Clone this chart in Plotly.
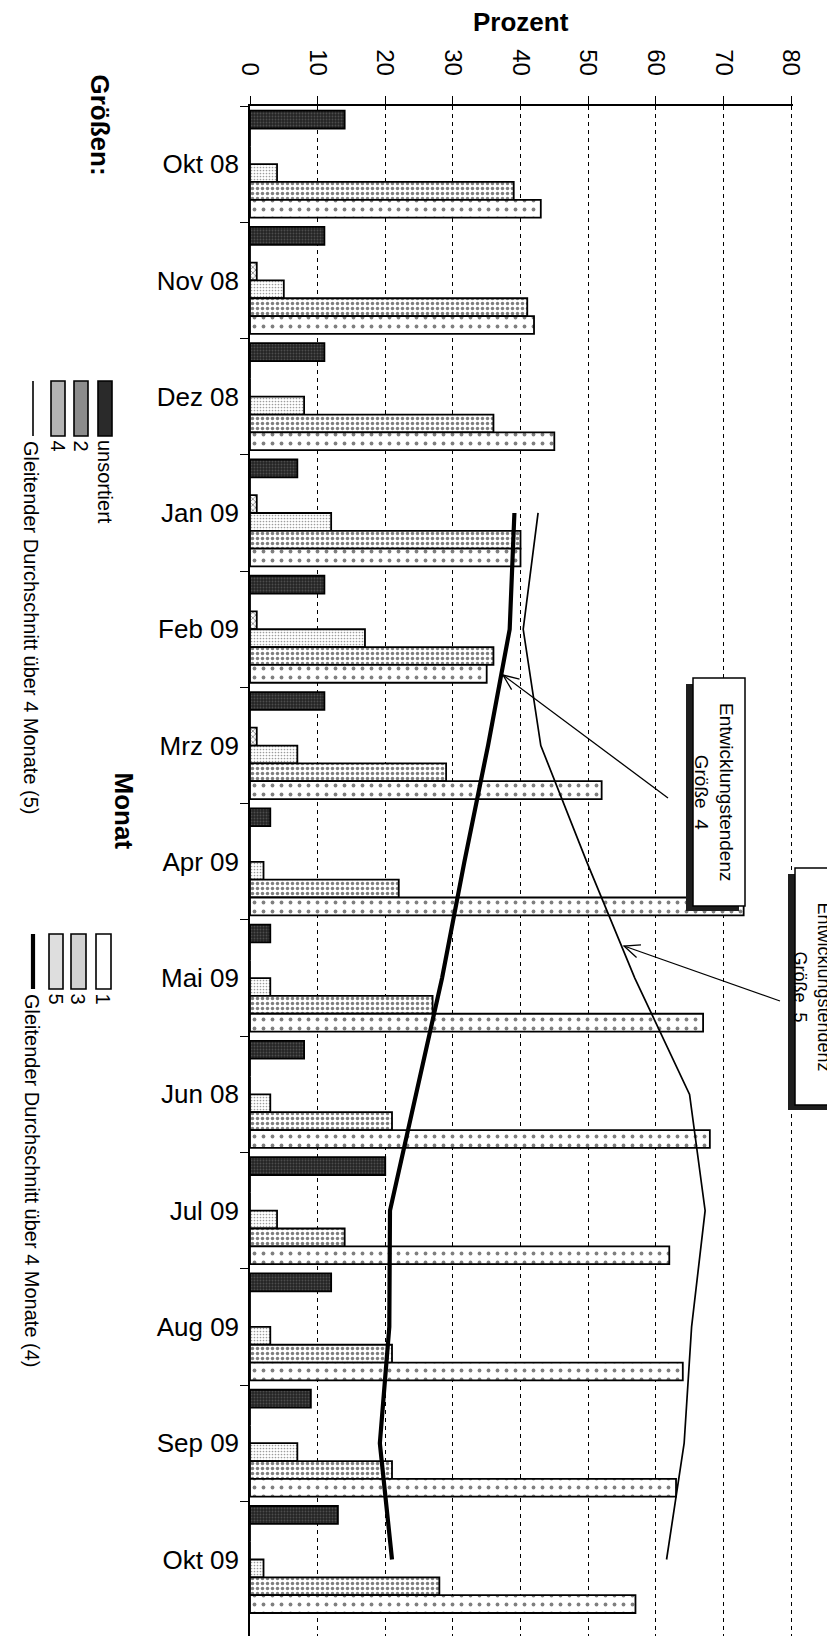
import math
import plotly.graph_objects as go

W, H = 835, 1640
FONT = "Liberation Sans, Arial, sans-serif"

# ---------------- data ----------------
months = ["Okt 08", "Nov 08", "Dez 08", "Jan 09", "Feb 09", "Mrz 09", "Apr 09",
          "Mai 09", "Jun 08", "Jul 09", "Aug 09", "Sep 09", "Okt 09"]
unsortiert = [14, 11, 11, 7, 11, 11, 3, 3, 8, 20, 12, 9, 13]
groesse_1 = [0, 0, 0, 0, 0, 0, 0, 0, 0, 0, 0, 0, 0]
groesse_2 = [0, 1, 0, 1, 1, 1, 0, 0, 0, 0, 0, 0, 0]
groesse_3 = [4, 5, 8, 12, 17, 7, 2, 3, 3, 4, 3, 7, 2]
groesse_4 = [39, 41, 36, 40, 36, 29, 22, 27, 21, 14, 21, 21, 28]
groesse_5 = [43, 42, 45, 40, 35, 52, 73, 67, 68, 62, 64, 63, 57]

ma_months = ["Jan 09", "Feb 09", "Mrz 09", "Apr 09", "Mai 09", "Jun 08",
             "Jul 09", "Aug 09", "Sep 09", "Okt 09"]
ma_groesse_4 = [39.1, 38.4, 35.2, 31.7, 28.4, 24.6, 20.7, 20.6, 19.2, 21.0]
ma_groesse_5 = [42.6, 40.4, 43.0, 49.8, 56.9, 65.0, 67.3, 65.3, 64.2, 61.6]

x_ticks = [0, 10, 20, 30, 40, 50, 60, 70, 80]
x_tick_labels = ["0", "10", "20", "30", "40", "50", "60", "70", "80"]


def px(x):
    return x / W


def py(y):
    return 1 - y / H


# plot area in pixels
PL, PT, PB = 242, 98, 1628
X_MAX = 80.3
PR = PL + X_MAX * (541 / 80)

fig = go.Figure()

bar_styles = [
    ("unsortiert", unsortiert, dict(color="#2a2a2a",
                                    pattern=dict(shape=".", fgcolor="#767676", bgcolor="#242424",
                                                 size=3, solidity=0.3))),
    ("1", groesse_1, dict(color="white")),
    ("2", groesse_2, dict(color="black",
                          pattern=dict(shape="x", fgcolor="black", bgcolor="white",
                                       size=4, solidity=0.35))),
    ("3", groesse_3, dict(color="#444",
                          pattern=dict(shape=".", fgcolor="#3a3a3a", bgcolor="white",
                                       size=3, solidity=0.25))),
    ("4", groesse_4, dict(color="black",
                          pattern=dict(shape=".", fgcolor="black", bgcolor="white",
                                       size=5, solidity=0.38))),
    ("5", groesse_5, dict(color="black",
                          pattern=dict(shape=".", fgcolor="black", bgcolor="white",
                                       size=9, solidity=0.14))),
]

for name, vals, mk in bar_styles:
    mk = dict(mk)
    mk["line"] = dict(color="black", width=1.8)
    fig.add_trace(go.Bar(name=name, y=months, x=vals, orientation="h", marker=mk,
                         showlegend=False))

fig.add_trace(go.Scatter(y=ma_months, x=ma_groesse_5, mode="lines",
                         line=dict(color="black", width=1.7), showlegend=False,
                         name="Gleitender Durchschnitt über 4 Monate (5)"))
fig.add_trace(go.Scatter(y=ma_months, x=ma_groesse_4, mode="lines",
                         line=dict(color="black", width=4.2), showlegend=False,
                         name="Gleitender Durchschnitt über 4 Monate (4)"))

fig.update_layout(
    width=W, height=H,
    margin=dict(l=0, r=0, t=0, b=0),
    paper_bgcolor="white", plot_bgcolor="white",
    barmode="group", bargap=0.08, bargroupgap=0,
    font=dict(family=FONT, color="black"),
    showlegend=False,
    xaxis=dict(
        domain=[px(PL), px(PR)], range=[0, X_MAX], side="top",
        tickmode="array", tickvals=x_ticks, ticktext=x_tick_labels,
        tickangle=90, tickfont=dict(size=24, family=FONT, color="black"),
        ticks="outside", ticklen=8, tickcolor="black", tickwidth=1,
        ticklabelstandoff=12,
        showline=True, linecolor="black", linewidth=1.5,
        showgrid=True, gridcolor="black", gridwidth=1, griddash="4px,4px",
        zeroline=False, automargin=False,
    ),
    yaxis=dict(
        domain=[py(PB), py(PT)], type="category", autorange="reversed",
        tickfont=dict(size=26, family=FONT, color="black"),
        ticks="outside", ticklen=8, tickcolor="black", tickson="boundaries",
        ticklabelstandoff=4,
        showline=True, linecolor="black", linewidth=1.5,
        showgrid=False, zeroline=False, automargin=False,
    ),
)

ann = []
shapes = []

# axis titles
ann.append(dict(text="<b>Prozent</b>", x=px(513), y=py(14), xref="paper", yref="paper",
                showarrow=False, font=dict(size=26, family=FONT), xanchor="center", yanchor="middle"))
ann.append(dict(text="<b>Monat</b>", x=px(116), y=py(762), xref="paper", yref="paper",
                showarrow=False, textangle=90, font=dict(size=26, family=FONT),
                xanchor="center", yanchor="top"))
ann.append(dict(text="<b>Größen:</b>", x=px(92), y=py(64), xref="paper", yref="paper",
                showarrow=False, textangle=90, font=dict(size=26, family=FONT),
                xanchor="center", yanchor="top"))

# legend (rotated)
legend_items = [
    # label, text-x, swatch x0, x1, y-top, fill
    ("unsortiert", 97, 90, 104, 373, "#2a2a2a"),
    ("2", 73, 66, 80, 373, "#8c8c8c"),
    ("4", 50, 43, 57, 373, "#b4b4b4"),
    ("1", 95, 88, 103, 926, "white"),
    ("3", 70, 63, 78, 926, "#d2d2d2"),
    ("5", 48, 41, 55, 926, "#dedede"),
]
for lab, tx, x0, x1, yt, fill in legend_items:
    shapes.append(dict(type="rect", xref="paper", yref="paper",
                       x0=px(x0), x1=px(x1), y0=py(yt), y1=py(yt + 55),
                       fillcolor=fill, line=dict(color="black", width=1.6)))
    ann.append(dict(text=lab, x=px(tx), y=py(yt + 57), xref="paper", yref="paper",
                    showarrow=False, textangle=90, font=dict(size=20, family=FONT),
                    xanchor="center", yanchor="top"))

shapes.append(dict(type="line", xref="paper", yref="paper", x0=px(25), x1=px(25),
                   y0=py(373), y1=py(428), line=dict(color="black", width=1.6)))
ann.append(dict(text="Gleitender Durchschnitt über 4 Monate (5)", x=px(23), y=py(431),
                xref="paper", yref="paper", showarrow=False, textangle=90,
                font=dict(size=20, family=FONT), xanchor="center", yanchor="top"))
shapes.append(dict(type="line", xref="paper", yref="paper", x0=px(25), x1=px(25),
                   y0=py(926), y1=py(981), line=dict(color="black", width=4.2)))
ann.append(dict(text="Gleitender Durchschnitt über 4 Monate (4)", x=px(24), y=py(984),
                xref="paper", yref="paper", showarrow=False, textangle=90,
                font=dict(size=20, family=FONT), xanchor="center", yanchor="top"))

# callout boxes with drop shadow
boxes = [
    # x0, x1, y0, y1, text-centre x, font size, text
    (685, 737, 670, 898, 706, 19, "Entwicklungstendenz<br>Größe&nbsp;&nbsp;4"),
    (787, 833, 860, 1097, 804, 18, "Entwicklungstendenz<br>Größe&nbsp;&nbsp;5"),
]
for x0, x1, y0, y1, tcx, fs, txt in boxes:
    shapes.append(dict(type="rect", xref="paper", yref="paper", layer="above",
                       x0=px(x0 - 7), x1=px(x1 - 6), y0=py(y0 + 6), y1=py(y1 + 5),
                       fillcolor="#1e1e1e", line=dict(width=0)))
    shapes.append(dict(type="rect", xref="paper", yref="paper", layer="above",
                       x0=px(x0), x1=px(x1), y0=py(y0), y1=py(y1),
                       fillcolor="white", line=dict(color="black", width=1.5)))
    ann.append(dict(text=txt, x=px(tcx), y=py((y0 + y1) / 2),
                    xref="paper", yref="paper", showarrow=False, textangle=90,
                    font=dict(size=fs, family=FONT), align="center", valign="middle",
                    xanchor="center", yanchor="middle"))

# arrows (open V heads)
arrows = [((660, 790), (495, 667)), ((772, 993), (616, 938))]
for (tx, ty), (hx, hy) in arrows:
    shapes.append(dict(type="line", xref="paper", yref="paper", layer="above",
                       x0=px(tx), y0=py(ty), x1=px(hx), y1=py(hy),
                       line=dict(color="black", width=1.3)))
    ang = math.atan2(ty - hy, tx - hx)
    pts = []
    for d in (-0.4, 0.4):
        bx = hx + 17 * math.cos(ang + d)
        by = hy + 17 * math.sin(ang + d)
        pts.append((bx, by))
    path = "M {} {} L {} {} L {} {}".format(px(pts[0][0]), py(pts[0][1]), px(hx), py(hy),
                                          px(pts[1][0]), py(pts[1][1]))
    shapes.append(dict(type="path", xref="paper", yref="paper", layer="above", path=path,
                       line=dict(color="black", width=1.3)))

fig.update_layout(annotations=ann, shapes=shapes)
fig.write_html("out.html")
